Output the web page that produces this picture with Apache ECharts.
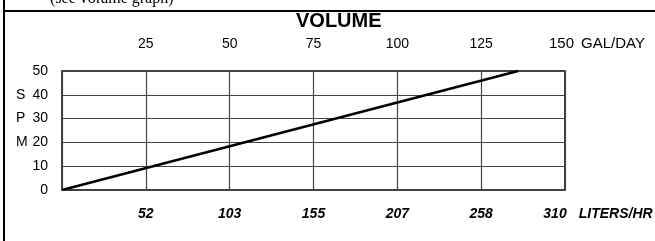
<!DOCTYPE html>
<html>
<head>
<meta charset="utf-8">
<script src="https://cdn.jsdelivr.net/npm/echarts@6/dist/echarts.min.js"></script>
<style>
  html, body { margin: 0; padding: 0; background: #fff; }
  #chart { width: 655px; height: 241px; }
</style>
</head>
<body>
<div id="chart"></div>
<script>
// volume (gal/day) vs strokes per minute
const galTicks = [0, 25, 50, 75, 100, 125, 150];
const literLabels = ['', '52', '103', '155', '207', '258', '310'];
const spmLetters = { 40: 'S', 30: 'P', 20: 'M' };
const lineData = [[0, 0], [136, 50]];

const chart = echarts.init(document.getElementById('chart'));

const sans = '"Liberation Sans", Arial, sans-serif';

chart.setOption({
  animation: false,
  grid: {
    left: 62, right: 90, top: 71, bottom: 51,
    outerBoundsMode: 'none',
    show: true, borderColor: '#000', borderWidth: 1.5
  },
  graphic: [
    // frame of the scanned page
    { type: 'line', shape: { x1: 4, y1: 0, x2: 4, y2: 241 }, style: { stroke: '#000', lineWidth: 2 } },
    { type: 'line', shape: { x1: 4, y1: 11, x2: 655, y2: 11 }, style: { stroke: '#000', lineWidth: 2 } },
    { type: 'text', left: 50, top: -9, style: { text: '(see volume graph)', font: '16px "Liberation Serif", serif', fill: '#000' } },
    { type: 'text', left: 296, top: 11, style: { text: 'VOLUME', font: 'bold 20px ' + sans, fill: '#000' } }
  ],
  xAxis: [
    {
      type: 'value', position: 'top', min: 0, max: 150, interval: 25,
      axisLine: { show: false }, axisTick: { show: false },
      splitLine: { show: true, lineStyle: { color: '#444', width: 1.2 } },
      axisLabel: {
        margin: 20, color: '#000', fontFamily: sans, fontSize: 14,
        formatter: v => v === 0 ? '' : (v === 150 ? '{s|}{n|150}{g|}{u|GAL/DAY}' : String(v)),
        rich: {
          s: { width: 68 },
          g: { width: 3 },
          n: { fontSize: 15, fontFamily: sans },
          u: { width: 72, align: 'left', fontSize: 15, fontFamily: sans }
        }
      }
    },
    {
      type: 'value', position: 'bottom', min: 0, max: 150, interval: 25,
      axisLine: { show: false }, axisTick: { show: false }, splitLine: { show: false },
      axisLabel: {
        margin: 17, color: '#000', fontFamily: sans, fontSize: 14,
        fontWeight: 'bold', fontStyle: 'italic',
        formatter: v => {
          const s = literLabels[galTicks.indexOf(v)];
          return v === 150 ? '{s|}{n|' + s + '}{g|}{u|LITERS/HR}' : s;
        },
        rich: {
          s: { width: 74 },
          g: { width: 4 },
          n: { fontSize: 14, fontFamily: sans, fontWeight: 'bold', fontStyle: 'italic' },
          u: { width: 90, align: 'left', fontSize: 14, fontFamily: sans, fontWeight: 'bold', fontStyle: 'italic' }
        }
      }
    }
  ],
  yAxis: {
    type: 'value', min: 0, max: 50, interval: 10,
    axisLine: { show: false }, axisTick: { show: false },
    splitLine: { show: true, lineStyle: { color: '#444', width: 1.2 } },
    axisLabel: {
      margin: 14, color: '#000',
      formatter: v => '{l|' + (spmLetters[v] || '') + '}{n|' + v + '}',
      rich: {
        l: { width: 16, align: 'left', fontSize: 14, fontFamily: sans, color: '#000' },
        n: { width: 16, align: 'right', fontSize: 14, fontFamily: sans, color: '#000' }
      }
    }
  },
  series: [{
    type: 'line', xAxisIndex: 0, data: lineData, symbol: 'none',
    lineStyle: { color: '#000', width: 2.5 }
  }]
});
</script>
</body>
</html>
